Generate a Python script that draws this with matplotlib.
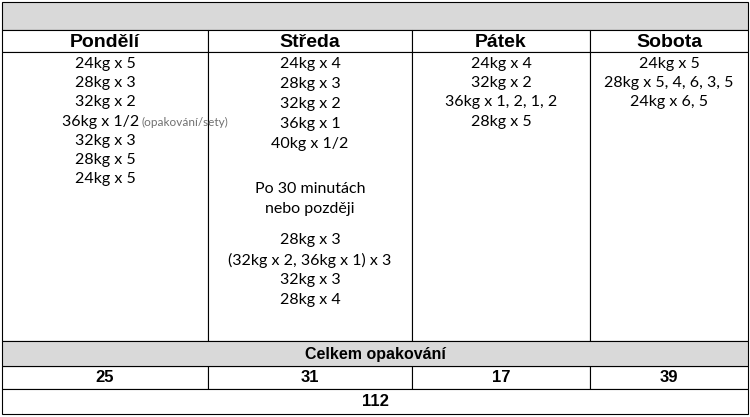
import matplotlib
matplotlib.use("Agg")
import matplotlib.pyplot as plt

days = ["Pondělí", "Středa", "Pátek", "Sobota"]
pondeli = ["24kg x 5", "28kg x 3", "32kg x 2", "36kg x 1/2", "32kg x 3", "28kg x 5", "24kg x 5"]
streda = ["24kg x 4", "28kg x 3", "32kg x 2", "36kg x 1", "40kg x 1/2", "",
          "Po 30 minutách", "nebo později", "",
          "28kg x 3", "(32kg x 2, 36kg x 1) x 3", "32kg x 3", "28kg x 4"]
patek = ["24kg x 4", "32kg x 2", "36kg x 1, 2, 1, 2", "28kg x 5"]
sobota = ["24kg x 5", "28kg x 5, 4, 6, 3, 5", "24kg x 6, 5"]
note = "(opakování/sety)"
totals = [25, 31, 17, 39]
grand_total = 112
summary_label = "Celkem opakování"

W, H = 750, 417
fig = plt.figure(figsize=(7.5, 4.17), dpi=100)
ax = fig.add_axes([0, 0, 1, 1])
ax.set_xlim(0, W); ax.set_ylim(H, 0); ax.axis("off")

xs = [2, 208, 412, 590, 748]
lw = 0.8
def rect(x0, y0, x1, y1, fc="white"):
    ax.add_patch(plt.Rectangle((x0, y0), x1 - x0, y1 - y0, fc=fc, ec="black", lw=lw))

rect(2, 2, 748, 30, "#d9d9d9")
for i in range(4):
    rect(xs[i], 30, xs[i+1], 52)
    rect(xs[i], 52, xs[i+1], 341)
    rect(xs[i], 366, xs[i+1], 389)
rect(2, 341, 748, 366, "#d9d9d9")
rect(2, 389, 748, 414)

hb = dict(family="Liberation Sans", weight="bold", ha="center", va="center")
body = dict(family="Lato", fontsize=11.5, ha="center", va="center")
for i, d in enumerate(days):
    cx = (xs[i] + xs[i+1]) / 2
    ax.text(cx, 42, d, fontsize=14, **hb)
    ax.text(cx, 378, str(totals[i]), fontsize=12, **hb)
ax.text(375, 354, summary_label, fontsize=11.5, **hb)
ax.text(375, 401, str(grand_total), fontsize=12, **hb)

cols = [pondeli, streda, patek, sobota]
for i, lines in enumerate(cols):
    cx = (xs[i] + xs[i+1]) / 2
    y = 64
    step = 20 if i == 1 else 19.2
    gaps = [25, 11]
    g = 0
    for j, t in enumerate(lines):
        if t == "":
            y += gaps[g]; g += 1
            continue
        if i == 0 and j == 3:
            ax.text(cx + 34, y, t, **{**body, "ha": "right"})
            ax.text(cx + 36, y + 1, note, family="Lato", fontsize=8.5, color="#707070", ha="left", va="center")
        else:
            ax.text(cx, y, t, **body)
        y += step

fig.savefig("out.png", dpi=100)
